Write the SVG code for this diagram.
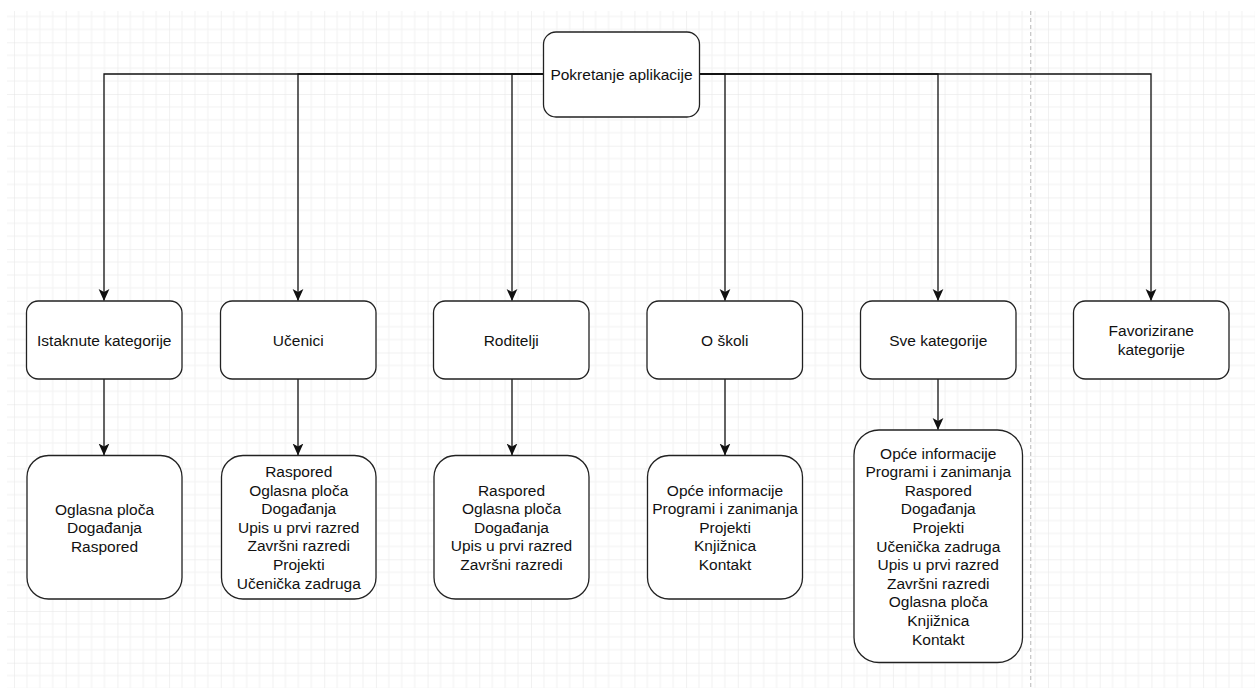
<svg xmlns="http://www.w3.org/2000/svg" width="1255" height="688" viewBox="0 0 1255 688">
<style>
.box{fill:#ffffff;stroke:#222222;stroke-width:1.3}
.lbl{font-family:"Liberation Sans",Arial,sans-serif;font-size:15.5px;fill:#111111;text-anchor:middle}
.edge{fill:none;stroke:#111111;stroke-width:1.3}
</style>
<defs>
<pattern id="grid" patternUnits="userSpaceOnUse" x="14" y="-9.4" width="51.7" height="51.7">
<g stroke="#f2f2f2" stroke-width="1" fill="none">
<path d="M12.925,0 V51.7 M25.85,0 V51.7 M38.775,0 V51.7 M0,12.925 H51.7 M0,25.85 H51.7 M0,38.775 H51.7"/>
</g>
<g stroke="#e4e4e4" stroke-width="1" fill="none">
<path d="M0,0 V51.7 M0,0 H51.7"/>
</g>
</pattern>
<marker id="arr" markerUnits="userSpaceOnUse" markerWidth="12" markerHeight="12" viewBox="0 0 12 12" refX="11.5" refY="6" orient="auto">
<path d="M0,0.6 L12,6 L0,11.4 L3,6 z" fill="#111111"/>
</marker>
</defs>
<rect width="1255" height="688" fill="#ffffff"/>
<rect x="7" y="11" width="1248" height="677" fill="url(#grid)"/>
<line x1="1030.7" y1="11" x2="1030.7" y2="688" stroke="#c4c4c4" stroke-width="1.2" stroke-dasharray="4,3"/>

<g id="connectors">
<path class="edge" d="M543.5,74 H104 V300.5" marker-end="url(#arr)"/>
<path class="edge" d="M543.5,74 H298 V300.5" marker-end="url(#arr)"/>
<path class="edge" d="M543.5,74 H512 V300.5" marker-end="url(#arr)"/>
<path class="edge" d="M699.5,74 H725 V300.5" marker-end="url(#arr)"/>
<path class="edge" d="M699.5,74 H938 V300.5" marker-end="url(#arr)"/>
<path class="edge" d="M699.5,74 H1151 V300.5" marker-end="url(#arr)"/>
<path class="edge" d="M104,379 V455" marker-end="url(#arr)"/>
<path class="edge" d="M298,379 V455" marker-end="url(#arr)"/>
<path class="edge" d="M512,379 V455" marker-end="url(#arr)"/>
<path class="edge" d="M725,379 V455" marker-end="url(#arr)"/>
<path class="edge" d="M938,379 V429.5" marker-end="url(#arr)"/>
</g>

<g id="pokretanje">
<rect class="box" x="543.5" y="32" width="156" height="85" rx="12.5"/>
<text class="lbl" x="621.5" y="79.5">Pokretanje aplikacije</text>
</g>

<g id="istaknute">
<rect class="box" x="26.5" y="301" width="155.5" height="78" rx="11.7"/>
<text class="lbl" x="104.25" y="345.5">Istaknute kategorije</text>
</g>
<g id="ucenici">
<rect class="box" x="220.5" y="301" width="155.5" height="78" rx="11.7"/>
<text class="lbl" x="298.25" y="345.5">Učenici</text>
</g>
<g id="roditelji">
<rect class="box" x="433.5" y="301" width="155.5" height="78" rx="11.7"/>
<text class="lbl" x="511.25" y="345.5">Roditelji</text>
</g>
<g id="oskoli">
<rect class="box" x="647" y="301" width="155.5" height="78" rx="11.7"/>
<text class="lbl" x="724.75" y="345.5">O školi</text>
</g>
<g id="sve">
<rect class="box" x="860.5" y="301" width="155.5" height="78" rx="11.7"/>
<text class="lbl" x="938.25" y="345.5">Sve kategorije</text>
</g>
<g id="favorizirane">
<rect class="box" x="1073.5" y="301" width="155.5" height="78" rx="11.7"/>
<text class="lbl" x="1151.25" y="336.2">Favorizirane</text>
<text class="lbl" x="1151.25" y="354.8">kategorije</text>
</g>

<g id="istaknute-list">
<rect class="box" x="27" y="455.5" width="155" height="143.5" rx="21.5"/>
<text class="lbl" x="104.5" y="514.8">Oglasna ploča</text>
<text class="lbl" x="104.5" y="533.4">Događanja</text>
<text class="lbl" x="104.5" y="552">Raspored</text>
</g>
<g id="ucenici-list">
<rect class="box" x="221.5" y="455.5" width="154.5" height="143.5" rx="21.5"/>
<text class="lbl" x="298.75" y="477.0">Raspored</text>
<text class="lbl" x="298.75" y="495.6">Oglasna ploča</text>
<text class="lbl" x="298.75" y="514.2">Događanja</text>
<text class="lbl" x="298.75" y="532.8">Upis u prvi razred</text>
<text class="lbl" x="298.75" y="551.4">Završni razredi</text>
<text class="lbl" x="298.75" y="570.0">Projekti</text>
<text class="lbl" x="298.75" y="588.6">Učenička zadruga</text>
</g>
<g id="roditelji-list">
<rect class="box" x="434" y="455.5" width="155" height="143.5" rx="21.5"/>
<text class="lbl" x="511.5" y="495.6">Raspored</text>
<text class="lbl" x="511.5" y="514.2">Oglasna ploča</text>
<text class="lbl" x="511.5" y="532.8">Događanja</text>
<text class="lbl" x="511.5" y="551.4">Upis u prvi razred</text>
<text class="lbl" x="511.5" y="570.0">Završni razredi</text>
</g>
<g id="oskoli-list">
<rect class="box" x="647.5" y="455.5" width="155" height="143.5" rx="21.5"/>
<text class="lbl" x="725" y="495.6">Opće informacije</text>
<text class="lbl" x="725" y="514.2">Programi i zanimanja</text>
<text class="lbl" x="725" y="532.8">Projekti</text>
<text class="lbl" x="725" y="551.4">Knjižnica</text>
<text class="lbl" x="725" y="570.0">Kontakt</text>
</g>
<g id="sve-list">
<rect class="box" x="854" y="430" width="168.5" height="232.5" rx="25"/>
<text class="lbl" x="938.25" y="458.6">Opće informacije</text>
<text class="lbl" x="938.25" y="477.2">Programi i zanimanja</text>
<text class="lbl" x="938.25" y="495.8">Raspored</text>
<text class="lbl" x="938.25" y="514.4">Događanja</text>
<text class="lbl" x="938.25" y="533.0">Projekti</text>
<text class="lbl" x="938.25" y="551.6">Učenička zadruga</text>
<text class="lbl" x="938.25" y="570.2">Upis u prvi razred</text>
<text class="lbl" x="938.25" y="588.8">Završni razredi</text>
<text class="lbl" x="938.25" y="607.4">Oglasna ploča</text>
<text class="lbl" x="938.25" y="626.0">Knjižnica</text>
<text class="lbl" x="938.25" y="644.6">Kontakt</text>
</g>
</svg>
